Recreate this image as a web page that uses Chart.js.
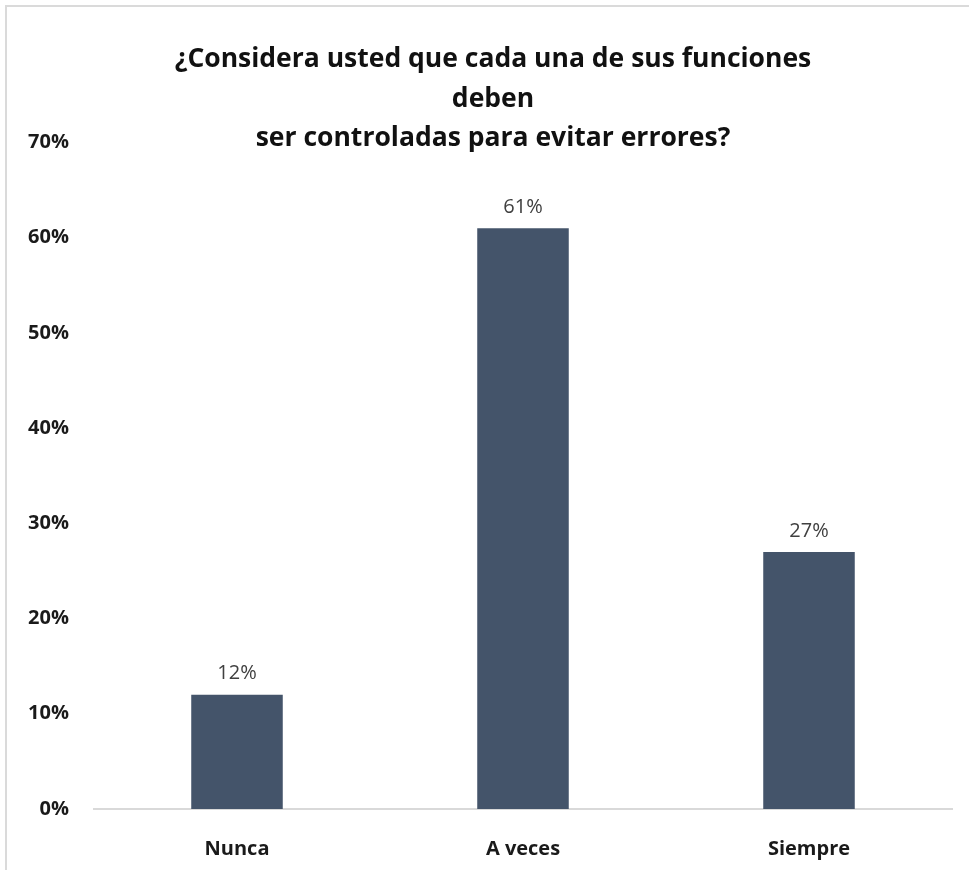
<!DOCTYPE html>
<html lang="es">
<head>
<meta charset="utf-8">
<title>Control de funciones</title>
<script src="https://cdn.jsdelivr.net/npm/chart.js@4.4.1/dist/chart.umd.min.js"></script>
<style>
  html, body {
    margin: 0;
    padding: 0;
    background: #ffffff;
    overflow: hidden;
  }
  .frame {
    position: absolute;
    left: 5px;
    top: 5px;
    width: 2000px;
    height: 2000px;
    border-left: 2px solid #dadada;
    border-top: 2px solid #dadada;
  }
  .chart-box {
    position: absolute;
    left: 0;
    top: 0;
    width: 969px;
    height: 870px;
  }
</style>
</head>
<body>
<div class="frame"></div>
<div class="chart-box">
  <canvas id="funcionesChart"></canvas>
</div>
<script>
const TITLE_LINES = [
  "¿Considera usted que cada una de sus funciones",
  "deben",
  "ser controladas para evitar errores?"
];
const CATEGORIES = ["Nunca", "A veces", "Siempre"];
const PERCENTAGES = [12, 61, 27];
const Y_TICKS = [0, 10, 20, 30, 40, 50, 60, 70];

const FONT_FAMILY = "'Open Sans', sans-serif";
const BAR_COLOR = "#44546a";
const Y_AXIS_WIDTH = 94;
const X_AXIS_HEIGHT = 51;

// Etiquetas de valor encima de cada barra
const valueLabels = {
  id: "valueLabels",
  afterDatasetsDraw(chart) {
    const { ctx } = chart;
    const meta = chart.getDatasetMeta(0);
    ctx.save();
    ctx.font = `normal 20px ${FONT_FAMILY}`;
    ctx.fillStyle = "#404040";
    ctx.textAlign = "center";
    ctx.textBaseline = "bottom";
    meta.data.forEach((bar, i) => {
      ctx.fillText(`${PERCENTAGES[i]}%`, bar.x, bar.y - 11);
    });
    ctx.restore();
  }
};

// El título se centra sobre el área sin contar el margen del eje Y
const titleOffset = {
  id: "titleOffset",
  afterLayout(chart) {
    chart.titleBlock.left += 34;
  }
};

new Chart(document.getElementById("funcionesChart"), {
  type: "bar",
  data: {
    labels: CATEGORIES,
    datasets: [
      {
        data: PERCENTAGES,
        backgroundColor: BAR_COLOR,
        borderWidth: 0,
        categoryPercentage: 1,
        barPercentage: 0.32
      }
    ]
  },
  options: {
    responsive: true,
    maintainAspectRatio: false,
    animation: false,
    layout: {
      padding: { top: 0, left: 0, right: 17, bottom: 10 }
    },
    plugins: {
      legend: { display: false },
      tooltip: { enabled: false },
      title: {
        display: true,
        text: TITLE_LINES,
        color: "#111111",
        font: { family: FONT_FAMILY, size: 26.5, weight: "bold", lineHeight: 1.49 },
        padding: { top: 40, bottom: -16 }
      }
    },
    scales: {
      x: {
        afterFit: (scale) => {
          scale.height = X_AXIS_HEIGHT;
        },
        grid: { display: false, drawTicks: false },
        border: { display: true, color: "#d9d9d9", width: 2 },
        ticks: {
          color: "#1a1a1a",
          padding: 28,
          font: { family: FONT_FAMILY, size: 20, weight: "bold" }
        }
      },
      y: {
        min: Y_TICKS[0],
        max: Y_TICKS[Y_TICKS.length - 1],
        afterBuildTicks: (scale) => {
          scale.ticks = Y_TICKS.map((value) => ({ value }));
        },
        afterFit: (scale) => {
          scale.width = Y_AXIS_WIDTH;
        },
        grid: { display: false, drawTicks: false },
        border: { display: false },
        ticks: {
          color: "#1a1a1a",
          padding: 25,
          font: { family: FONT_FAMILY, size: 20, weight: "bold" },
          callback: (value) => `${value}%`
        }
      }
    }
  },
  plugins: [valueLabels, titleOffset]
});
</script>
</body>
</html>
